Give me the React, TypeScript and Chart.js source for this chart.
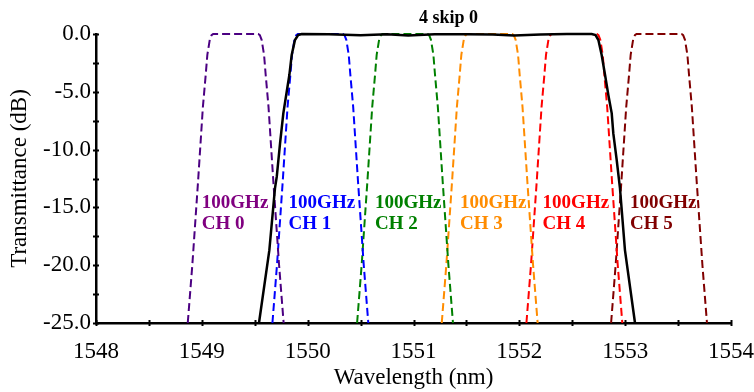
import React, { useEffect, useRef } from 'react';
import { Chart, registerables } from 'chart.js';

Chart.register(...registerables);

// ---- data ----
const dbLevels = [-25, -20, -12.8, -6.3, -3.5, -1.8, -0.5, -0.1, 0, 0, -0.1, -0.5, -1.8, -3.5, -6.3, -12.8, -20, -25];

const ch0X = [1548.867, 1548.91, 1548.964, 1549.01, 1549.037, 1549.052, 1549.075, 1549.092, 1549.107, 1549.533, 1549.548, 1549.565, 1549.588, 1549.603, 1549.63, 1549.676, 1549.73, 1549.773];
const ch1X = [1549.667, 1549.71, 1549.764, 1549.81, 1549.837, 1549.852, 1549.875, 1549.892, 1549.907, 1550.333, 1550.348, 1550.365, 1550.388, 1550.403, 1550.43, 1550.476, 1550.53, 1550.573];
const ch2X = [1550.467, 1550.51, 1550.564, 1550.61, 1550.637, 1550.652, 1550.675, 1550.692, 1550.707, 1551.133, 1551.148, 1551.165, 1551.188, 1551.203, 1551.23, 1551.276, 1551.33, 1551.373];
const ch3X = [1551.267, 1551.31, 1551.364, 1551.41, 1551.437, 1551.452, 1551.475, 1551.492, 1551.507, 1551.933, 1551.948, 1551.965, 1551.988, 1552.003, 1552.03, 1552.076, 1552.13, 1552.173];
const ch4X = [1552.067, 1552.11, 1552.164, 1552.21, 1552.237, 1552.252, 1552.275, 1552.292, 1552.307, 1552.733, 1552.748, 1552.765, 1552.788, 1552.803, 1552.83, 1552.876, 1552.93, 1552.973];
const ch5X = [1552.867, 1552.91, 1552.964, 1553.01, 1553.037, 1553.052, 1553.075, 1553.092, 1553.107, 1553.533, 1553.548, 1553.565, 1553.588, 1553.603, 1553.63, 1553.676, 1553.73, 1553.773];

const combinedX = [1549.54, 1549.638, 1549.691, 1549.708, 1549.739, 1549.77, 1549.802, 1549.827, 1549.849, 1549.88, 1549.91, 1549.944, 1550.2, 1550.5, 1550.75, 1550.95, 1551.2, 1551.5, 1551.75, 1551.95, 1552.2, 1552.45, 1552.684, 1552.72, 1552.747, 1552.778, 1552.81, 1552.841, 1552.873, 1552.888, 1552.92, 1552.951, 1552.998, 1553.093];
const combinedY = [-25, -18.7, -13.35, -12.34, -9.46, -6.86, -5.0, -3.55, -1.82, -0.52, -0.1, 0, -0.02, -0.1, -0.03, -0.12, -0.02, -0.03, -0.05, -0.12, -0.04, 0, 0, -0.1, -0.52, -1.82, -3.55, -5.28, -6.86, -8.6, -10.9, -13.35, -18.69, -25];

const channelNames = ['CH 0', 'CH 1', 'CH 2', 'CH 3', 'CH 4', 'CH 5'];
const channelTag = '100GHz';
const channelLineColors = ['#4B0082', '#0000FF', '#008000', '#FF8C00', '#FF0000', '#800000'];
const channelTextColors = ['#800080', '#0000FF', '#008000', '#FF8C00', '#FF0000', '#800000'];
const channelLabelX = [1549.0, 1549.82, 1550.636, 1551.44, 1552.22, 1553.046];
const channelLabelY = -15.05;

const chartTitle = '4 skip 0';
const chartTitleX = 1551.33;
const xAxisTitle = 'Wavelength (nm)';
const yAxisTitle = 'Transmittance (dB)';
const xTickValues = [1548, 1549, 1550, 1551, 1552, 1553, 1554];
const yTickValues = [0, -5, -10, -15, -20, -25];

const channelXs = [ch0X, ch1X, ch2X, ch3X, ch4X, ch5X];

const SERIF = '"Liberation Serif", "Times New Roman", serif';

const overlay = {
  id: 'overlay',
  afterDraw(chart: any) {
    const ctx = chart.ctx as CanvasRenderingContext2D;
    const xs = chart.scales.x;
    const ys = chart.scales.y;
    const area = chart.chartArea;
    ctx.save();
    ctx.strokeStyle = '#000';
    ctx.lineWidth = 2;
    // tick marks crossing the axes
    for (let v = xs.min; v <= xs.max + 1e-9; v += 0.5) {
      const px = Math.round(xs.getPixelForValue(v)) + 0.5;
      ctx.beginPath();
      ctx.moveTo(px, area.bottom - 3);
      ctx.lineTo(px, area.bottom + 3);
      ctx.stroke();
    }
    for (let v = ys.min; v <= ys.max + 1e-9; v += 2.5) {
      const py = Math.round(ys.getPixelForValue(v)) + 0.5;
      ctx.beginPath();
      ctx.moveTo(area.left - 3, py);
      ctx.lineTo(area.left + 3, py);
      ctx.stroke();
    }
    // channel annotations
    ctx.font = 'bold 19px ' + SERIF;
    ctx.textAlign = 'left';
    ctx.textBaseline = 'alphabetic';
    channelLabelX.forEach((lx, i) => {
      const px = xs.getPixelForValue(lx);
      const py = ys.getPixelForValue(channelLabelY);
      ctx.fillStyle = channelTextColors[i];
      ctx.fillText(channelTag, px, py);
      ctx.fillText(channelNames[i], px, py + 21);
    });
    // title
    ctx.fillStyle = '#000';
    ctx.font = 'bold 18px ' + SERIF;
    ctx.textAlign = 'center';
    ctx.fillText(chartTitle, xs.getPixelForValue(chartTitleX), area.top - 11);
    ctx.restore();
  },
};

export default function App() {
  const ref = useRef<HTMLCanvasElement | null>(null);
  useEffect(() => {
    if (!ref.current) return;
    const datasets: any[] = [
      {
        label: chartTitle,
        data: combinedX.map((x, i) => ({ x, y: combinedY[i] })),
        borderColor: '#000',
        borderWidth: 2.5,
        pointRadius: 0,
        tension: 0,
        clip: 6,
      },
      ...channelXs.map((xsArr, c) => ({
        label: channelNames[c],
        data: xsArr.map((x, i) => ({ x, y: dbLevels[i] })),
        borderColor: channelLineColors[c],
        borderWidth: 2,
        borderDash: [8, 4],
        pointRadius: 0,
        tension: 0,
        clip: 6,
      })),
    ];
    const chart = new Chart(ref.current, {
      type: 'line',
      data: { datasets },
      plugins: [overlay],
      options: {
        animation: false,
        responsive: false,
        devicePixelRatio: 1,
        layout: { padding: { left: 0, right: 23, top: 34, bottom: 0 } },
        plugins: { legend: { display: false }, tooltip: { enabled: false }, title: { display: false } },
        scales: {
          x: {
            type: 'linear',
            min: 1548,
            max: 1554,
            afterBuildTicks: (s: any) => {
              s.ticks = xTickValues.map((v) => ({ value: v }));
            },
            afterFit: (s: any) => {
              s.height = 69;
              s.paddingLeft = 0;
              s.paddingRight = 0;
            },
            ticks: {
              autoSkip: false,
              maxRotation: 0,
              padding: 15,
              color: '#000',
              font: { family: SERIF, size: 23 },
              callback: (v: any) => String(v),
            },
            grid: { display: false, drawTicks: false },
            border: { display: true, color: '#000', width: 2.5 },
            title: {
              display: true,
              text: xAxisTitle,
              color: '#000',
              font: { family: SERIF, size: 23 },
              padding: { top: 0, bottom: 0 },
            },
          },
          y: {
            type: 'linear',
            min: -25,
            max: 0,
            afterBuildTicks: (s: any) => {
              s.ticks = yTickValues.map((v) => ({ value: v }));
            },
            afterFit: (s: any) => {
              s.width = 96;
              s.paddingTop = 0;
              s.paddingBottom = 0;
            },
            ticks: {
              padding: 5,
              color: '#000',
              font: { family: SERIF, size: 23 },
              callback: (v: any) => Number(v).toFixed(1),
            },
            grid: { display: false, drawTicks: false },
            border: { display: true, color: '#000', width: 2.5 },
            title: {
              display: true,
              text: yAxisTitle,
              color: '#000',
              font: { family: SERIF, size: 23 },
              padding: { top: 6, bottom: 0 },
            },
          },
        },
      } as any,
    });
    return () => chart.destroy();
  }, []);
  return (
    <div style={{ position: 'absolute', left: 0, top: 0, width: 754, height: 392, background: '#fff' }}>
      <canvas ref={ref} width={754} height={392} style={{ display: 'block', width: 754, height: 392 }} />
    </div>
  );
}
